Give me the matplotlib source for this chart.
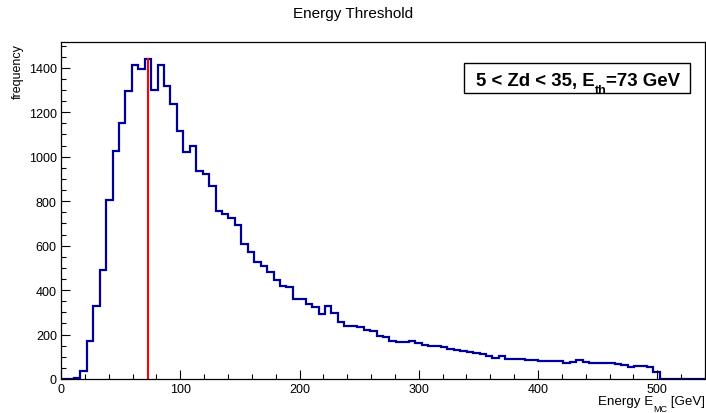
import numpy as np
import matplotlib
matplotlib.use("Agg")
import matplotlib.pyplot as plt
from matplotlib.patches import Rectangle
from matplotlib.ticker import MultipleLocator

plt.rcParams["font.family"] = ["Liberation Sans", "DejaVu Sans"]

# histogram: 100 bins from 0 to 540 GeV
e_min, e_max, n_bins = 0.0, 540.0, 100
counts = [
    0, 0, 6, 35, 172, 327, 492, 804, 1024, 1150,
    1297, 1414, 1396, 1440, 1302, 1413, 1320, 1237, 1117, 1022,
    1047, 937, 920, 870, 757, 742, 723, 693, 607, 570,
    528, 510, 480, 445, 420, 414, 360, 362, 337, 322,
    292, 330, 296, 255, 240, 240, 232, 220, 217, 195,
    188, 172, 168, 166, 171, 161, 155, 150, 150, 146,
    133, 129, 126, 123, 118, 111, 102, 94, 105, 92,
    90, 88, 86, 84, 83, 79, 83, 81, 72, 76,
    86, 76, 73, 72, 70, 72, 67, 63, 53, 57,
    58, 55, 33, 0, 0, 0, 0, 0, 0, 0,
]
threshold = 73.0
# (text, fontsize, drop in px) pieces, drawn ROOT style with low subscripts
box_pieces = [("5 < Zd < 35, E", 13.4, 0), ("th", 9.0, 8), ("=73 GeV", 13.4, 0)]
xlabel_pieces = [("Energy E", 9.6, 0), ("MC", 6.5, 7), (" [GeV]", 9.6, 0)]

edges = np.linspace(e_min, e_max, n_bins + 1)
counts = np.array(counts, dtype=float)

W, H = 706, 414
fig = plt.figure(figsize=(W / 100, H / 100), dpi=100)
ax = fig.add_axes([61 / W, (H - 380) / H, (705 - 61) / W, (380 - 43) / H])


def draw_pieces(pieces, x, y, ha="left", weight="normal"):
    # x, y in pixels from top-left, y is the baseline
    r = fig.canvas.get_renderer()
    widths = []
    for s, size, _ in pieces:
        t = fig.text(0, 0, s.replace(" ", "\u00a0"), fontsize=size, fontweight=weight)
        widths.append(t.get_window_extent(r).width)
        t.remove()
    x0 = x - sum(widths) if ha == "right" else (x - sum(widths) / 2 if ha == "center" else x)
    for (s, size, drop), w in zip(pieces, widths):
        fig.text(x0 / W, 1 - (y + drop) / H, s.replace(" ", "\u00a0"),
                 fontsize=size, fontweight=weight, va="baseline", ha="left")
        x0 += w


ax.stairs(counts, edges, color="#000099", lw=1.6, baseline=None)
ax.plot([threshold, threshold], [0, counts.max()], color="#ff0000", lw=1.5)

ax.set_xlim(e_min, e_max)
ax.set_ylim(0, 1516)
ax.xaxis.set_major_locator(MultipleLocator(100))
ax.xaxis.set_minor_locator(MultipleLocator(20))
ax.yaxis.set_major_locator(MultipleLocator(200))
ax.yaxis.set_minor_locator(MultipleLocator(50))
ax.tick_params(which="both", direction="in", top=False, right=False,
               labelsize=9, width=0.8)
ax.tick_params(which="major", length=6.5, pad=3)
ax.tick_params(which="minor", length=3.5)
for sp in ax.spines.values():
    sp.set_linewidth(0.9)

fig.text(353 / W, 1 - 14 / H, "Energy Threshold", ha="center", va="center",
         fontsize=11)
fig.text(18 / W, 1 - 44 / H, "frequency", rotation=90, ha="center", va="top",
         fontsize=9)
draw_pieces(xlabel_pieces, 705, 405, ha="right")

fig.add_artist(Rectangle((464 / W, 1 - 94 / H), (690 - 464) / W, (94 - 64) / H,
                         transform=fig.transFigure, fill=False, lw=1.0,
                         ec="black"))
draw_pieces(box_pieces, 578, 86, ha="center", weight="bold")

fig.savefig("out.png", dpi=100)
